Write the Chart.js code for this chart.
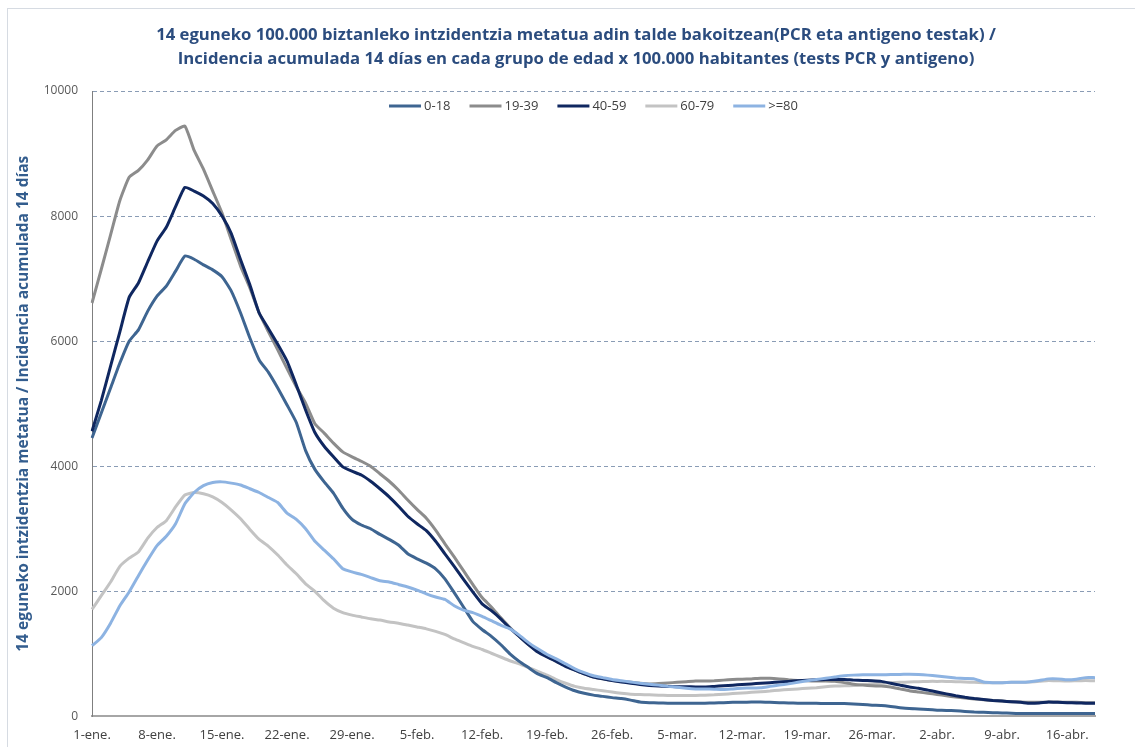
<!DOCTYPE html>
<html>
<head>
<meta charset="utf-8">
<script src="https://cdn.jsdelivr.net/npm/chart.js@4.4.0/dist/chart.umd.min.js"></script>
<style>
  html, body { margin: 0; padding: 0; background: #fff; }
  #wrap { width: 1135px; height: 747px; position: relative; }
</style>
</head>
<body>
<div id="wrap"><canvas id="myChart" width="1135" height="747"></canvas></div>
<script>
// fechas: 1-ene .. 19-abr, una por dia
const meses = ["ene", "feb", "mar", "abr"];
const diasMes = [31, 28, 31, 19];
let fechas = [];
meses.forEach((m, i) => {
  for (let d = 1; d <= diasMes[i]; d++) fechas.push(d + "-" + m + ".");
});

const yTicks = [0, 2000, 4000, 6000, 8000, 10000];

const edad0_18 = [4450, 4850, 5250, 5650, 6000, 6180, 6480, 6720, 6880, 7120,
  7360, 7310, 7220, 7140, 7030, 6800, 6450, 6050, 5700, 5500,
  5250, 4980, 4700, 4250, 3950, 3750, 3570, 3330, 3150, 3060,
  3000, 2910, 2830, 2740, 2600, 2520, 2450, 2360, 2200, 1980,
  1750, 1520, 1390, 1280, 1150, 1000, 880, 780, 680, 620,
  540, 470, 410, 370, 340, 320, 300, 285, 260, 230,
  220, 215, 210, 210, 210, 210, 210, 215, 220, 225,
  225, 230, 230, 225, 220, 215, 210, 210, 210, 205,
  205, 205, 200, 190, 180, 175, 160, 140, 125, 120,
  110, 100, 95, 90, 80, 70, 65, 60, 55, 50,
  45, 45, 45, 45, 45, 45, 45, 45, 45];

const edad19_39 = [6610, 7150, 7700, 8250, 8620, 8730, 8900, 9120, 9220, 9370,
  9440, 9050, 8750, 8400, 8050, 7620, 7200, 6850, 6450, 6150,
  5860, 5560, 5270, 5010, 4680, 4530, 4370, 4230, 4150, 4080,
  4000, 3880, 3760, 3620, 3460, 3310, 3170, 2980, 2760, 2550,
  2330, 2110, 1900, 1750, 1580, 1420, 1280, 1150, 1040, 960,
  880, 810, 740, 680, 630, 600, 575, 560, 545, 530,
  520, 525, 535, 545, 555, 565, 565, 570, 580, 590,
  595, 600, 610, 610, 600, 585, 575, 570, 565, 565,
  560, 540, 515, 500, 490, 485, 470, 440, 410, 390,
  370, 350, 330, 310, 295, 280, 265, 255, 245, 235,
  230, 225, 225, 230, 230, 225, 225, 220, 220];

const edad40_59 = [4560, 5050, 5600, 6150, 6700, 6930, 7270, 7600, 7820, 8150,
  8460, 8400, 8320, 8200, 8000, 7720, 7300, 6900, 6450, 6200,
  5950, 5680, 5300, 4900, 4540, 4320, 4150, 3990, 3920, 3860,
  3760, 3640, 3510, 3360, 3200, 3080, 2970, 2800, 2600, 2400,
  2190, 1990, 1800, 1690, 1560, 1410, 1280, 1150, 1030, 950,
  880, 800, 740, 680, 630, 600, 575, 550, 530, 510,
  495, 485, 480, 475, 475, 470, 470, 480, 490, 500,
  510, 520, 530, 540, 550, 560, 570, 580, 585, 590,
  590, 590, 580, 575, 570, 560, 530, 500, 470, 450,
  420, 390, 360, 330, 305, 285, 270, 255, 245, 235,
  225, 210, 215, 230, 225, 220, 215, 210, 210];

const edad60_79 = [1710, 1930, 2150, 2400, 2530, 2630, 2850, 3020, 3130, 3350,
  3540, 3580, 3560, 3510, 3420, 3300, 3160, 2990, 2830, 2720,
  2580, 2420, 2280, 2120, 2000, 1850, 1730, 1660, 1620, 1590,
  1560, 1540, 1510, 1490, 1460, 1430, 1400, 1360, 1310, 1240,
  1180, 1120, 1070, 1010, 950, 890, 840, 780, 720, 660,
  590, 530, 480, 450, 430, 410, 390, 370, 355, 350,
  345, 340, 335, 335, 335, 335, 340, 345, 355, 365,
  375, 385, 395, 405, 420, 430, 440, 450, 460, 475,
  485, 490, 495, 510, 520, 530, 540, 545, 550, 555,
  560, 560, 560, 555, 550, 545, 540, 540, 540, 545,
  545, 550, 560, 575, 570, 565, 570, 575, 570];

const edad80 = [1130, 1260, 1490, 1770, 1990, 2250, 2500, 2730, 2880, 3080,
  3400, 3580, 3690, 3740, 3750, 3730, 3700, 3640, 3580, 3500,
  3420, 3250, 3150, 3000, 2800, 2660, 2520, 2360, 2310, 2270,
  2220, 2170, 2150, 2110, 2070, 2020, 1960, 1910, 1870, 1770,
  1700, 1660, 1600, 1530, 1460, 1400, 1300, 1180, 1080, 990,
  920, 840, 760, 700, 650, 620, 590, 570, 550, 530,
  515, 500, 480, 465, 450, 440, 440, 435, 430, 440,
  450, 455, 460, 480, 500, 520, 545, 570, 590, 610,
  630, 650, 660, 665, 665, 665, 670, 670, 675, 670,
  660, 645, 630, 615, 605, 600, 550, 540, 540, 545,
  545, 555, 575, 600, 600, 585, 595, 620, 620];

const series = ["0-18", "19-39", "40-59", "60-79", ">=80"];
const colores = ["#3e6591", "#8c8c8c", "#0f2760", "#c3c3c3", "#8db3e2"];
const valores = [edad0_18, edad19_39, edad40_59, edad60_79, edad80];

const titulo = [
  "14 eguneko 100.000 biztanleko intzidentzia metatua adin talde bakoitzean(PCR eta antigeno testak) /",
  "Incidencia acumulada 14 días en cada grupo de edad x 100.000 habitantes (tests PCR y antigeno)"
];

const fuente = "'Open Sans', sans-serif";

// fondo, marco fino y titulo (centrado como en el original, no en el area)
const marco = {
  id: "marco",
  beforeDraw(chart) {
    const ctx = chart.ctx;
    ctx.save();
    ctx.fillStyle = "#fff";
    ctx.fillRect(0, 0, chart.width, chart.height);
    ctx.strokeStyle = "#d6dbe2";
    ctx.lineWidth = 1;
    ctx.strokeRect(7.5, 8.5, 1300, 900);
    ctx.fillStyle = "#2b4c7e";
    ctx.font = "bold 16.7px " + fuente;
    ctx.textAlign = "center";
    ctx.textBaseline = "middle";
    ctx.fillText(titulo[0], 576, 35);
    ctx.fillText(titulo[1], 576, 59);
    ctx.restore();
  }
};

// leyenda horizontal dentro del area del grafico
const leyenda = {
  id: "leyenda",
  afterDraw(chart) {
    const ctx = chart.ctx;
    const area = chart.chartArea;
    ctx.save();
    ctx.font = "13px " + fuente;
    ctx.textBaseline = "middle";
    const sw = 32, gap = 3, sep = 19;
    const items = chart.data.datasets.map((ds) => ({ t: ds.label, c: ds.borderColor, w: ctx.measureText(ds.label).width }));
    let total = items.reduce((s, it) => s + sw + gap + it.w, 0) + sep * (items.length - 1);
    let x = (area.left + area.right) / 2 - total / 2;
    const y = area.top + 15;
    items.forEach((it) => {
      ctx.fillStyle = it.c;
      ctx.fillRect(x, y - 1.5, sw, 3);
      ctx.fillStyle = "#404040";
      ctx.fillText(it.t, x + sw + gap, y);
      x += sw + gap + it.w + sep;
    });
    ctx.restore();
  }
};

const data = {
  labels: fechas,
  datasets: series.map((s, i) => ({
    label: s,
    data: valores[i],
    borderColor: colores[i],
    backgroundColor: colores[i],
    borderWidth: 3,
    pointRadius: 0,
    tension: 0.15,
    order: [3, 4, 2, 5, 1][i]
  }))
};

const config = {
  type: "line",
  data,
  plugins: [marco, leyenda],
  options: {
    responsive: false,
    animation: false,
    layout: { padding: { left: 14, right: 40, top: 91, bottom: 1 } },
    plugins: {
      title: { display: false },
      legend: { display: false },
      tooltip: { enabled: false }
    },
    scales: {
      x: {
        offset: false,
        grid: { display: false },
        border: { display: true, color: "#a6a6a6", width: 2 },
        ticks: {
          autoSkip: false,
          maxRotation: 0,
          color: "#404040",
          padding: 3,
          font: { family: fuente, size: 13 },
          callback: function (val, i) {
            return i % 7 === 0 ? this.getLabelForValue(val) : "";
          }
        }
      },
      y: {
        min: yTicks[0],
        max: yTicks[yTicks.length - 1],
        afterBuildTicks(axis) {
          axis.ticks = yTicks.map((v) => ({ value: v }));
        },
        afterFit(axis) {
          axis.width = 78;
        },
        grid: { color: "#8a9cb5", lineWidth: 1, drawTicks: false },
        border: { display: true, color: "#7f7f7f", width: 1, dash: [4, 3] },
        ticks: {
          color: "#595959",
          padding: 14,
          font: { family: fuente, size: 12 },
          callback: (v) => String(v)
        },
        title: {
          display: true,
          text: "14 eguneko intzidentzia metatua / Incidencia acumulada 14 días",
          color: "#335d8e",
          font: { family: fuente, size: 15.5, weight: "bold" },
          padding: { top: 0, bottom: 4 }
        }
      }
    }
  }
};

var myChart = new Chart(document.getElementById("myChart"), config);
</script>
</body>
</html>
